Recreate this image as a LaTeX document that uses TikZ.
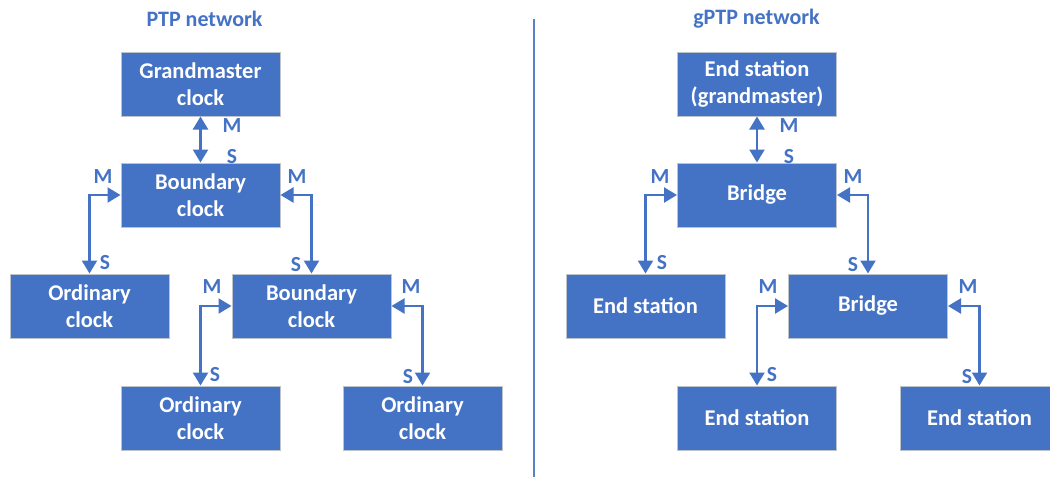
\documentclass[tikz,border=0pt]{standalone}
\usepackage{fontspec}
\setmainfont{Carlito}
\usetikzlibrary{arrows.meta}
\definecolor{office}{HTML}{4472C4}
\definecolor{rim}{HTML}{BFC3CA}
\tikzset{
  unit/.style={rectangle, fill=office, draw=rim, line width=1pt,
    minimum width=159pt, minimum height=64pt, inner sep=0pt,
    text=white, font=\fontsize{22.5}{27}\selectfont\bfseries, align=center},
  heading/.style={text=office, font=\fontsize{22}{26}\selectfont\bfseries},
  role/.style={text=office, font=\fontsize{21.5}{25}\selectfont\bfseries, inner sep=0pt},
  link/.style={draw=office, line width=2.3pt,
    {Triangle[length=13pt,width=15pt]}-{Triangle[length=13pt,width=15pt]}},
}
\begin{document}
\begin{tikzpicture}[x=1pt, y=-1pt]
\useasboundingbox (0,0) rectangle (1050,477);

% divider between the two networks
\draw[office!90, line width=2pt] (534,19) -- (534,477);

% ---------------- PTP network ----------------
\node[heading] (ptptitle) at (204.5,19) {PTP network};
\node[unit] (gm)  at (200.5,84)  {Grandmaster\\clock};
\node[unit] (bc1) at (200.5,195) {Boundary\\clock};
\node[unit] (oc1) at (89.5,306)  {Ordinary\\clock};
\node[unit] (bc2) at (311.5,306) {Boundary\\clock};
\node[unit] (oc2) at (200.5,418) {Ordinary\\clock};
\node[unit] (oc3) at (422.5,418) {Ordinary\\clock};

\draw[link] (gm.south) -- (bc1.north);
\draw[link] (oc1.north) |- (bc1.west);
\draw[link] (bc2.north) |- (bc1.east);
\draw[link] (oc2.north) |- (bc2.west);
\draw[link] (oc3.north) |- (bc2.east);

\node[role] (pm1) at (232,126) {M};
\node[role] (ps1) at (232,157) {S};
\node[role] (pm2) at (103,177) {M};
\node[role] (ps2) at (105,263) {S};
\node[role] (pm3) at (297,177) {M};
\node[role] (ps3) at (296,265) {S};
\node[role] (pm4) at (212,287) {M};
\node[role] (ps4) at (215,375) {S};
\node[role] (pm5) at (411,287) {M};
\node[role] (ps5) at (408,377) {S};

% ---------------- gPTP network ----------------
\node[heading] (gptptitle) at (756.5,19) {gPTP network};
\clip (0,0) rectangle (1050,477);
\node[unit] (es0) at (757,84)    {End station\\(grandmaster)};
\node[unit] (br1) at (757,195)   {Bridge};
\node[unit] (es1) at (645.5,306) {End station};
\node[unit] (br2) at (868,306)   {Bridge};
\node[unit] (es2) at (757,418)   {End station};
\node[unit] (es3) at (979.5,418) {End station};

\draw[link] (es0.south) -- (br1.north);
\draw[link] (es1.north) |- (br1.west);
\draw[link] (br2.north) |- (br1.east);
\draw[link] (es2.north) |- (br2.west);
\draw[link] (es3.north) |- (br2.east);

\node[role] (gm1) at (789,126) {M};
\node[role] (gs1) at (789,157) {S};
\node[role] (gm2) at (660,177) {M};
\node[role] (gs2) at (662,263) {S};
\node[role] (gm3) at (853,177) {M};
\node[role] (gs3) at (853,265) {S};
\node[role] (gm4) at (768,287) {M};
\node[role] (gs4) at (772,375) {S};
\node[role] (gm5) at (968,287) {M};
\node[role] (gs5) at (967,377) {S};
\end{tikzpicture}
\end{document}
